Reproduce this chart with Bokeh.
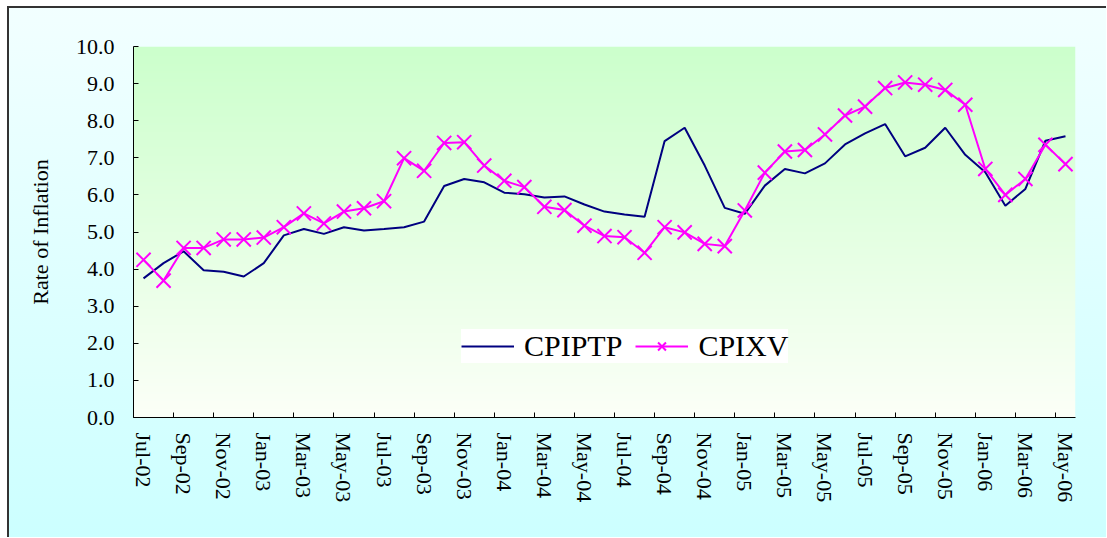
import math
import numpy as np
from bokeh.plotting import figure
from bokeh.models import (FixedTicker, NumeralTickFormatter, Legend, LegendItem,
                          Range1d, ColumnDataSource)
from bokeh.embed import file_html
from bokeh.resources import INLINE

# ---------------- data ----------------
months = ["Jul-02", "Aug-02", "Sep-02", "Oct-02", "Nov-02", "Dec-02",
          "Jan-03", "Feb-03", "Mar-03", "Apr-03", "May-03", "Jun-03",
          "Jul-03", "Aug-03", "Sep-03", "Oct-03", "Nov-03", "Dec-03",
          "Jan-04", "Feb-04", "Mar-04", "Apr-04", "May-04", "Jun-04",
          "Jul-04", "Aug-04", "Sep-04", "Oct-04", "Nov-04", "Dec-04",
          "Jan-05", "Feb-05", "Mar-05", "Apr-05", "May-05", "Jun-05",
          "Jul-05", "Aug-05", "Sep-05", "Oct-05", "Nov-05", "Dec-05",
          "Jan-06", "Feb-06", "Mar-06", "Apr-06", "May-06"]

cpiptp = [3.75, 4.16, 4.48, 3.97, 3.93, 3.80, 4.16, 4.91, 5.08, 4.95,
          5.13, 5.04, 5.08, 5.13, 5.28, 6.24, 6.43, 6.34, 6.06, 6.02,
          5.93, 5.96, 5.74, 5.55, 5.47, 5.41, 7.45, 7.81, 6.79, 5.65,
          5.49, 6.25, 6.70, 6.58, 6.85, 7.36, 7.66, 7.91, 7.04, 7.27,
          7.81, 7.08, 6.61, 5.71, 6.16, 7.46, 7.58]

cpixv = [4.25, 3.69, 4.57, 4.57, 4.80, 4.80, 4.85, 5.13, 5.50, 5.23,
         5.55, 5.64, 5.83, 6.99, 6.65, 7.40, 7.42, 6.79, 6.38, 6.21,
         5.68, 5.59, 5.17, 4.89, 4.86, 4.44, 5.13, 4.99, 4.68, 4.62,
         5.58, 6.60, 7.17, 7.21, 7.63, 8.14, 8.38, 8.88, 9.03, 8.97,
         8.83, 8.43, 6.70, 6.00, 6.43, 7.35, 6.83]

y_ticks = [0, 1, 2, 3, 4, 5, 6, 7, 8, 9, 10]

# ---------------- figure ----------------
n = len(months)
xc = [i + 0.5 for i in range(n)]
src = ColumnDataSource(dict(x=xc, a=cpiptp, b=cpixv))

FONT = "Liberation Serif"

p = figure(width=1099, height=531, output_backend="svg", toolbar_location=None,
           x_range=Range1d(0, n), y_range=Range1d(0, 10),
           min_border_left=126, min_border_right=31,
           min_border_top=40, min_border_bottom=120)
p.margin = (6, 0, 0, 7)
p.border_fill_alpha = 0
p.background_fill_alpha = 0
p.outline_line_color = None
p.grid.visible = False
p.styles = {"background": "linear-gradient(to bottom, #F2FFFF, #CCFFFF)",
            "box-shadow": "inset 2px 2px 0 #333333"}

# plot-area gradient background (light green at top -> near white at bottom)
rows = 200
t = np.linspace(0, 1, rows)
bot = np.array([252, 255, 248])
top = np.array([204, 255, 204])
img = np.empty((rows, 2), dtype=np.uint32)
view = img.view(dtype=np.uint8).reshape((rows, 2, 4))
for k in range(3):
    col = (bot[k] + (top[k] - bot[k]) * t).astype(np.uint8)
    view[:, :, k] = col[:, None]
view[:, :, 3] = 255
p.image_rgba(image=[img], x=0, y=0, dw=n, dh=10)

r1 = p.line("x", "a", source=src, line_color="#000080", line_width=2)
r2 = p.line("x", "b", source=src, line_color="#FF00FF", line_width=2)
r3 = p.scatter("x", "b", source=src, marker="x", size=20,
               line_color="#FF00FF", line_width=2)

# ---------------- axes ----------------
xax = p.xaxis[0]
xax.ticker = FixedTicker(ticks=[i + 0.5 for i in range(0, n, 2)],
                         minor_ticks=list(range(0, n, 2)))
xax.major_label_overrides = {i + 0.5: months[i] for i in range(0, n, 2)}
xax.major_label_orientation = -math.pi / 2
xax.major_tick_in = 0
xax.major_tick_out = 0
xax.minor_tick_in = 5
xax.minor_tick_out = 0
xax.minor_tick_line_color = "black"
xax.axis_line_color = "black"
xax.major_label_text_font = FONT
xax.major_label_text_font_size = "22px"
xax.major_label_text_color = "black"
xax.major_label_standoff = 15

yax = p.yaxis[0]
yax.ticker = FixedTicker(ticks=y_ticks, minor_ticks=[])
yax.formatter = NumeralTickFormatter(format="0.0")
yax.major_tick_in = 5
yax.major_tick_out = 0
yax.major_tick_line_color = "black"
yax.axis_line_color = "black"
yax.major_label_text_font = FONT
yax.major_label_text_font_size = "22px"
yax.major_label_text_color = "black"
yax.major_label_standoff = 19
yax.axis_label = "Rate of Inflation"
yax.axis_label_text_font = FONT
yax.axis_label_text_font_size = "22px"
yax.axis_label_text_font_style = "normal"
yax.axis_label_text_color = "black"
yax.axis_label_standoff = 20

# ---------------- legend ----------------
legend = Legend(items=[LegendItem(label="CPIPTP", renderers=[r1]),
                       LegendItem(label="CPIXV", renderers=[r2, r3])],
                orientation="horizontal", location=(328, 54),
                label_text_font=FONT, label_text_font_size="30px",
                label_text_color="black",
                glyph_width=53, glyph_height=28, label_height=28,
                label_standoff=10, spacing=13, padding=10, margin=0,
                background_fill_color="white", background_fill_alpha=1,
                border_line_color=None)
p.add_layout(legend, "center")

open("out.html", "w").write(file_html(p, INLINE))
